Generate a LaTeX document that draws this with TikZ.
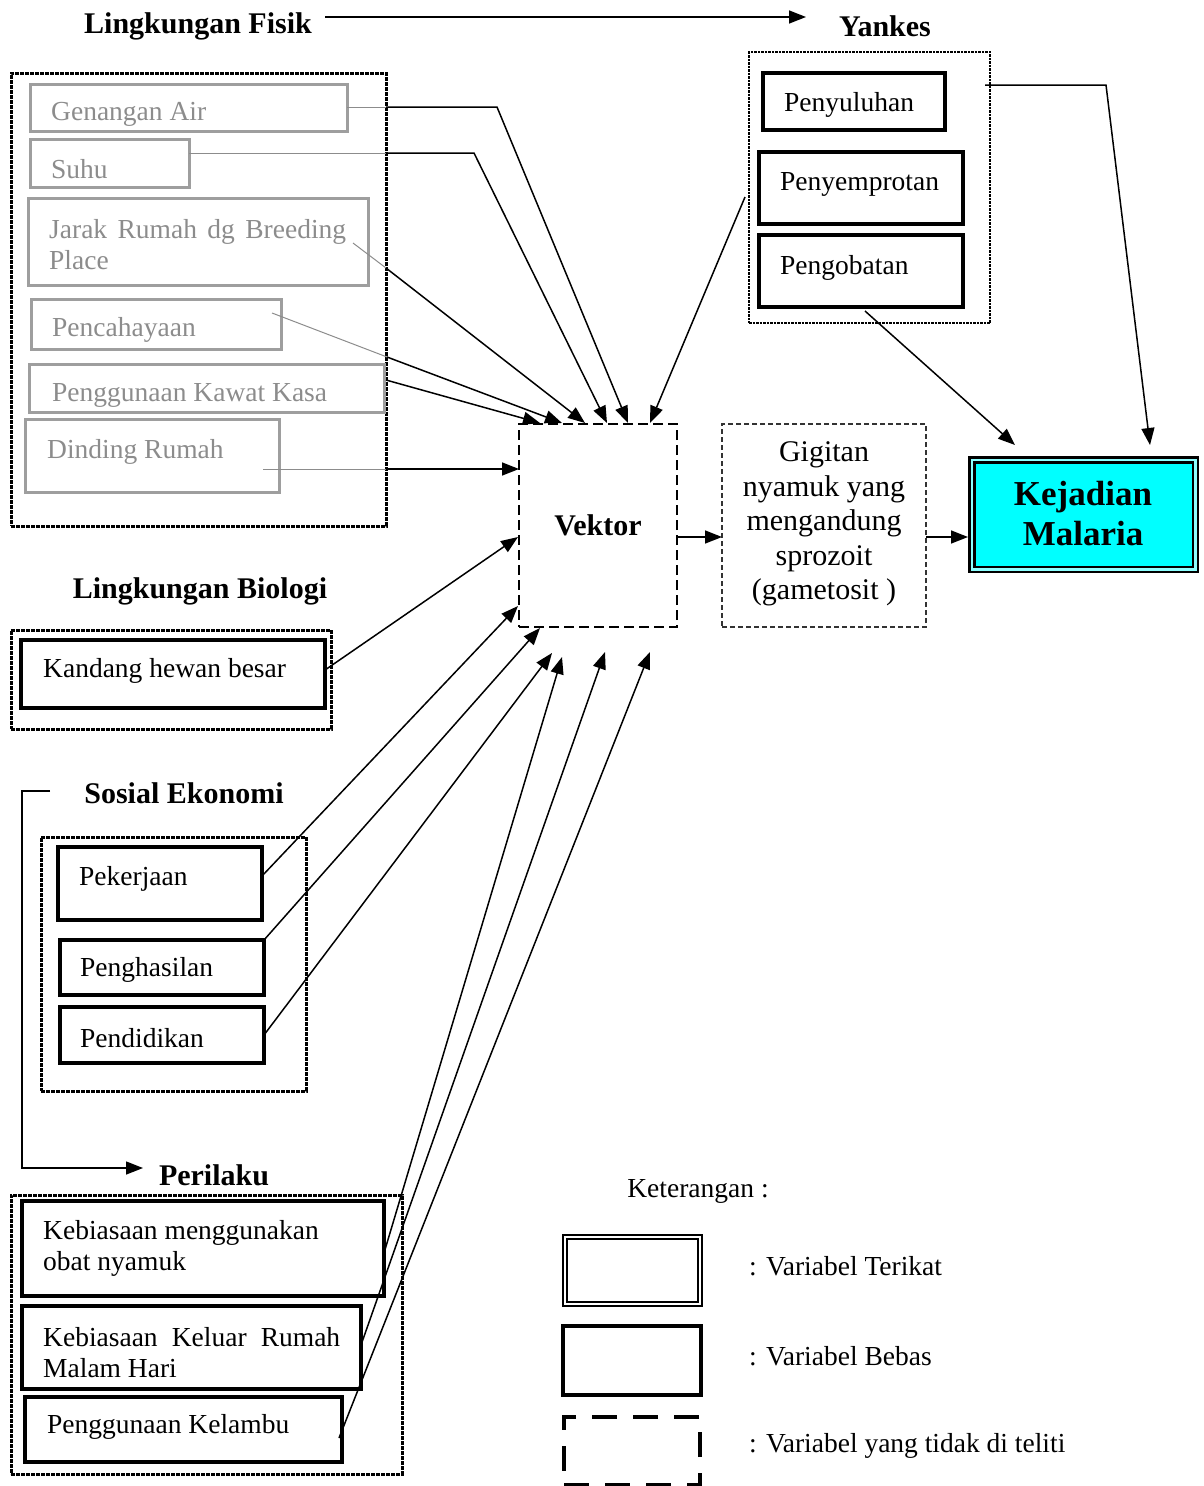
\documentclass[tikz,border=0pt]{standalone}
\usepackage{fontspec}
\setmainfont{Liberation Serif}
\usetikzlibrary{arrows.meta}
\definecolor{aqua}{RGB}{0,255,255}
\newcommand\fsA{\fontsize{27.5pt}{31pt}\selectfont}
\newcommand\fsH{\fontsize{30pt}{34pt}\selectfont\bfseries}
\newcommand\fsG{\fontsize{30pt}{34.5pt}\selectfont}
\newcommand\fsK{\fontsize{35pt}{40pt}\selectfont\bfseries}
\tikzset{
  bx/.style={inner sep=0pt, outer sep=0pt, anchor=north west},
  outerbox/.style={bx, draw, line width=3pt, dash pattern=on 4pt off 1pt},
  ybox/.style={bx, draw, line width=2.2pt, dash pattern=on 2.5pt off 1pt},
  grbox/.style={bx, draw=black!38, line width=3pt},
  vbox/.style={bx, draw, line width=3.5pt},
  vekbox/.style={bx, draw, line width=1.8pt, dash pattern=on 10pt off 5pt},
  gigbox/.style={bx, draw=black!80, line width=1.2pt, dash pattern=on 5pt off 3pt},
  legdash/.style={bx, draw, line width=3.5pt, dash pattern=on 25pt off 16pt},
  txt/.style={inner sep=0pt, anchor=west, font=\fsA, align=left},
  gtxt/.style={txt, text=black!45},
  hd/.style={inner sep=0pt, font=\fsH},
  conn/.style={line width=1.5pt, -{Triangle[length=17pt,width=13pt]}},
  gconn/.style={draw=black!45, line width=1pt},
}
\begin{document}
\begin{tikzpicture}[x=1pt,y=-1pt]
\useasboundingbox (0,0) rectangle (1203,1486);

% headings
\node[hd] (lf) at (198,26) {Lingkungan Fisik};
\node[hd] (yk) at (885,26) {Yankes};
\node[hd] (lb) at (200,591) {Lingkungan Biologi};
\node[hd] (se) at (184,793) {Sosial Ekonomi};
\node[hd] (pl) at (214,1175) {Perilaku};

% Lingkungan Fisik group
\node[outerbox, minimum width=375pt, minimum height=453pt] (fis) at (11,73) {};
\node[grbox, minimum width=317pt, minimum height=47pt] (gen) at (30,84) {};
\node[grbox, minimum width=159pt, minimum height=48pt] (suh) at (30,139) {};
\node[grbox, minimum width=340pt, minimum height=87pt] (jar) at (28,198) {};
\node[grbox, minimum width=250pt, minimum height=50pt] (pen) at (31,299) {};
\node[grbox, minimum width=355pt, minimum height=48pt] (kaw) at (29,364) {};
\node[grbox, minimum width=254pt, minimum height=73pt] (din) at (25,419) {};
\node[gtxt] (tgen) at (51,114) {Genangan Air};
\node[gtxt] (tsuh) at (51,169) {Suhu};
\node[gtxt] (tjar) at (49,245) {\makebox[297pt][s]{Jarak Rumah dg Breeding}\\Place};
\node[gtxt] (tpen) at (52,330) {Pencahayaan};
\node[gtxt] (tkaw) at (52,395) {Penggunaan Kawat Kasa};
\node[gtxt] (tdin) at (47,452) {Dinding Rumah};

% Yankes group
\node[ybox, minimum width=241pt, minimum height=271pt] (yan) at (749,52) {};
\node[vbox, minimum width=182pt, minimum height=57pt] (pyl) at (763,73) {};
\node[vbox, minimum width=204pt, minimum height=72pt] (pym) at (759,152) {};
\node[vbox, minimum width=204pt, minimum height=72pt] (pgo) at (759,235) {};
\node[txt] (tpyl) at (784,105) {Penyuluhan};
\node[txt] (tpym) at (780,184) {Penyemprotan};
\node[txt] (tpgo) at (780,268) {Pengobatan};

% Vektor, Gigitan, Kejadian
\node[vekbox, minimum width=158pt, minimum height=203pt] (vek) at (519,424) {};
\node[hd] (tvek) at (598,525) {Vektor};
\node[gigbox, minimum width=204pt, minimum height=203pt] (gig) at (722,424) {};
\node[inner sep=0pt, font=\fsG, align=center] (tgig) at (824,524) {Gigitan\\nyamuk yang\\mengandung\\sprozoit\\(gametosit )};
\node[bx, draw, fill=aqua, line width=2.5pt, double=aqua!45, double distance=2.5pt, minimum width=223.5pt, minimum height=109.5pt] (kej) at (971.75,459.75) {};
\node[inner sep=0pt, font=\fsK, align=center] (tkej) at (1083,514) {Kejadian\\Malaria};

% Biologi
\node[outerbox, minimum width=320pt, minimum height=99pt] (bio) at (11,630) {};
\node[vbox, minimum width=304pt, minimum height=68pt] (kan) at (21,640) {};
\node[txt] (tkan) at (43,671) {Kandang hewan besar};

% Sosial Ekonomi
\node[outerbox, minimum width=265pt, minimum height=254pt] (sos) at (41,837) {};
\node[vbox, minimum width=204pt, minimum height=73pt] (pek) at (58,847) {};
\node[vbox, minimum width=204pt, minimum height=55pt] (phs) at (60,940) {};
\node[vbox, minimum width=204pt, minimum height=56pt] (pdd) at (60,1007) {};
\node[txt] (tpek) at (79,879) {Pekerjaan};
\node[txt] (tphs) at (80,970) {Penghasilan};
\node[txt] (tpdd) at (80,1038) {Pendidikan};

% Perilaku
\node[outerbox, minimum width=391pt, minimum height=279pt] (per) at (11,1195) {};
\node[vbox, minimum width=362pt, minimum height=95pt] (oba) at (22,1201) {};
\node[vbox, minimum width=339pt, minimum height=83pt] (kel) at (22,1306) {};
\node[vbox, minimum width=317pt, minimum height=65pt] (klb) at (25,1397) {};
\node[txt] (toba) at (43,1248) {Kebiasaan menggunakan\\obat nyamuk};
\node[txt] (tkel) at (43,1353) {\makebox[297pt][s]{Kebiasaan Keluar Rumah}\\Malam Hari};
\node[txt] (tklb) at (47,1427) {Penggunaan Kelambu};

% Legend
\node[inner sep=0pt, font=\fsA] (ket) at (698,1191) {Keterangan :};
\node[bx, draw, line width=2pt, double=white, double distance=2.5pt, minimum width=135pt, minimum height=67pt] (lg1) at (565,1237) {};
\node[vbox, minimum width=138pt, minimum height=69pt] (lg2) at (563,1326) {};
\node[legdash, minimum width=136pt, minimum height=68pt] (lg3) at (564,1417) {};
\node[txt] (tlg1) at (749,1266) {: Variabel Terikat};
\node[txt] (tlg2) at (749,1356) {: Variabel Bebas};
\node[txt] (tlg3) at (749,1446) {: Variabel yang tidak di teliti};

% coordinates for connector ends
\coordinate (hA) at (325,17);
\coordinate (hB) at (806,17);
\coordinate (g1) at (347,107);  \coordinate (f1) at (386,107); \coordinate (k1) at (497,107); \coordinate (v1) at (628,423);
\coordinate (g2) at (189,153);  \coordinate (f2) at (386,153); \coordinate (k2) at (474,153); \coordinate (v2) at (607,423);
\coordinate (g3) at (353,243);  \coordinate (f3) at (386,268); \coordinate (v3) at (585,423);
\coordinate (g4) at (272,313);  \coordinate (f4) at (387,357); \coordinate (v4) at (562,423);
\coordinate (f5) at (386,380);  \coordinate (v5) at (540,423);
\coordinate (g6) at (263,469);  \coordinate (f6) at (386,469); \coordinate (v6) at (519,469);
\coordinate (y1) at (745,197);  \coordinate (v7) at (650,423);
\coordinate (y2) at (985,85);   \coordinate (y2b) at (1106,85); \coordinate (kj1) at (1150,445);
\coordinate (y3) at (865,311);  \coordinate (kj2) at (1015,445);
\coordinate (ve) at (678,537);  \coordinate (gw) at (722,537);
\coordinate (ge) at (926,537);  \coordinate (kw) at (968,537);
\coordinate (c1) at (325,670);  \coordinate (w1) at (518,537);
\coordinate (c2) at (262,876);  \coordinate (w2) at (518,606);
\coordinate (c3) at (264,940);  \coordinate (w3) at (540,628);
\coordinate (c4) at (264,1035); \coordinate (w4) at (552,653);
\coordinate (c5) at (384,1253); \coordinate (w5) at (562,657);
\coordinate (c6) at (361,1345); \coordinate (w6) at (605,652);
\coordinate (c7) at (339,1438); \coordinate (w7) at (650,652);
\coordinate (b1) at (50,791); \coordinate (b2) at (22,791); \coordinate (b3) at (22,1168); \coordinate (b4) at (143,1168);

% connectors
\draw[conn] (hA) -- (hB);
\draw[gconn] (g1) -- (f1); \draw[conn] (f1) -- (k1) -- (v1);
\draw[gconn] (g2) -- (f2); \draw[conn] (f2) -- (k2) -- (v2);
\draw[gconn] (g3) -- (f3); \draw[conn] (f3) -- (v3);
\draw[gconn] (g4) -- (f4); \draw[conn] (f4) -- (v4);
\draw[conn] (f5) -- (v5);
\draw[gconn] (g6) -- (f6); \draw[conn] (f6) -- (v6);
\draw[conn] (y1) -- (v7);
\draw[conn] (y2) -- (y2b) -- (kj1);
\draw[conn] (y3) -- (kj2);
\draw[conn] (ve) -- (gw);
\draw[conn] (ge) -- (kw);
\draw[conn] (c1) -- (w1);
\draw[conn] (c2) -- (w2);
\draw[conn] (c3) -- (w3);
\draw[conn] (c4) -- (w4);
\draw[conn] (c5) -- (w5);
\draw[conn] (c6) -- (w6);
\draw[conn] (c7) -- (w7);
\draw[conn] (b1) -- (b2) -- (b3) -- (b4);
\end{tikzpicture}
\end{document}
